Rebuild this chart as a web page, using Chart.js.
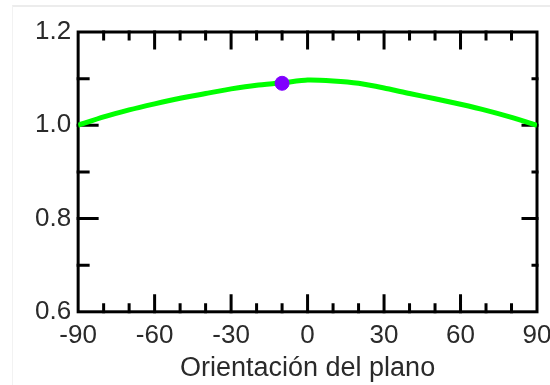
<!DOCTYPE html>
<html>
<head>
<meta charset="utf-8">
<script src="https://cdn.jsdelivr.net/npm/chart.js"></script>
<style>
  html, body { margin: 0; padding: 0; background: #fff; }
  #wrap { position: relative; width: 550px; height: 385px; }
  #marco { position: absolute; left: 12px; top: 5px; right: 0; bottom: 0;
           border-top: 2px solid #ececec; border-left: 1px solid #f2f2f2; }
  #myChart { position: absolute; left: 0; top: 0; }
</style>
</head>
<body>
<div id="wrap">
  <div id="marco"></div>
  <canvas id="myChart" width="550" height="385"></canvas>
</div>
<script>
// datos
const orientacion = [-90, -80, -70, -60, -50, -40, -30, -20, -10, 0, 10, 20, 30, 40, 50, 60, 70, 80, 90]
const factor = [1.000, 1.018, 1.033, 1.046, 1.058, 1.068, 1.078, 1.086, 1.091, 1.097,
                1.095, 1.090, 1.080, 1.068, 1.057, 1.045, 1.032, 1.017, 1.000]
const puntoX = [-10]
const puntoY = [1.09]
const ticksX = [-90, -60, -30, 0, 30, 60, 90]
const ticksY = [0.6, 0.8, 1.0, 1.2]

const fuente = "'Liberation Sans', Arial, sans-serif"
const colorTexto = '#2a2a2a'

// marco negro con ticks hacia adentro
const marco = {
  id: 'marco',
  beforeDatasetsDraw(chart) {
    const { ctx, chartArea: a, scales: { x, y } } = chart
    ctx.save()
    ctx.strokeStyle = '#000'
    ctx.lineWidth = 3
    ctx.lineCap = 'square'
    ctx.strokeRect(a.left, a.top, a.right - a.left, a.bottom - a.top)
    ctx.beginPath()
    for (let v = -80; v < 90; v += 10) {
      const px = x.getPixelForValue(v)
      const len = v % 30 === 0 ? 16 : 7
      ctx.moveTo(px, a.bottom); ctx.lineTo(px, a.bottom - len)
      ctx.moveTo(px, a.top); ctx.lineTo(px, a.top + len)
    }
    for (let i = 7; i < 12; i++) {
      const py = y.getPixelForValue(i / 10)
      const mayor = i % 2 === 0
      ctx.moveTo(a.left, py); ctx.lineTo(a.left + (mayor ? 19 : 10), py)
      ctx.moveTo(a.right, py); ctx.lineTo(a.right - (mayor ? 14 : 4), py)
    }
    ctx.stroke()
    ctx.restore()
  }
}

const ctx = document.getElementById('myChart').getContext('2d')

const myChart = new Chart(ctx, {
  type: 'scatter',
  data: {
    datasets: [
      {
        data: puntoX.map((v, i) => ({ x: v, y: puntoY[i] })),
        backgroundColor: '#8000ff',
        borderColor: '#8000ff',
        pointRadius: 7,
        order: 0
      },
      {
        data: orientacion.map((v, i) => ({ x: v, y: factor[i] })),
        showLine: true,
        borderColor: '#00ff00',
        borderWidth: 5,
        pointRadius: 0,
        tension: 0.2,
        order: 1
      }
    ]
  },
  options: {
    responsive: false,
    animation: false,
    events: [],
    layout: { padding: { left: 28, top: 32, right: 13, bottom: 3 } },
    plugins: { legend: { display: false }, tooltip: { enabled: false } },
    scales: {
      x: {
        type: 'linear',
        min: -90,
        max: 90,
        afterBuildTicks: s => { s.ticks = ticksX.map(v => ({ value: v })) },
        // el "90" se sale por la derecha como en el original
        afterFit: s => { s.paddingRight = 0 },
        grid: { display: false, drawTicks: false },
        border: { display: false },
        ticks: { padding: 8, color: colorTexto, font: { family: fuente, size: 26 }, maxRotation: 0 },
        title: {
          display: true,
          text: 'Orientación del plano',
          color: colorTexto,
          font: { family: fuente, size: 27, lineHeight: 1.0 },
          padding: { top: -4, bottom: 0 }
        }
      },
      y: {
        min: 0.6,
        max: 1.2,
        afterBuildTicks: s => { s.ticks = ticksY.map(v => ({ value: v })) },
        grid: { display: false, drawTicks: false },
        border: { display: false },
        ticks: {
          padding: 7,
          color: colorTexto,
          font: { family: fuente, size: 26 },
          callback: v => v.toFixed(1)
        }
      }
    }
  },
  plugins: [marco]
})
</script>
</body>
</html>
